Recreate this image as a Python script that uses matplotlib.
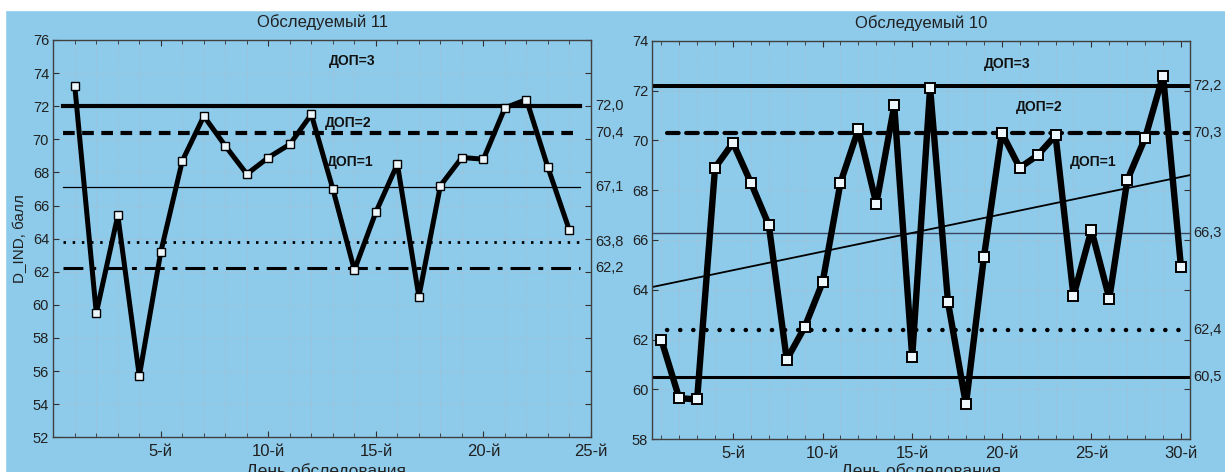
import numpy as np
import matplotlib.pyplot as plt
from matplotlib.patches import Rectangle
from matplotlib.ticker import MultipleLocator, FuncFormatter

plt.rcParams['font.family'] = ['Liberation Sans', 'DejaVu Sans']

BLUE = '#8ecbeb'
INK = '#202020'

# Обследуемый 11
days11 = np.arange(1, 25)
vals11 = [73.2, 59.5, 65.4, 55.7, 63.2, 68.7, 71.4, 69.6, 67.9, 68.9, 69.7, 71.5,
          67.0, 62.1, 65.6, 68.5, 60.5, 67.2, 68.9, 68.8, 71.9, 72.4, 68.3, 64.5]
levels11 = [72.0, 70.4, 67.1, 63.8, 62.2]

# Обследуемый 10
days10 = np.arange(1, 31)
vals10 = [62.0, 59.65, 59.6, 68.9, 69.9, 68.3, 66.6, 61.2, 62.5, 64.3, 68.3, 70.45,
          67.45, 71.4, 61.3, 72.1, 63.5, 59.4, 65.3, 70.3, 68.9, 69.4, 70.2, 63.75,
          66.4, 63.65, 68.4, 70.1, 72.6, 64.9]
levels10 = [72.2, 70.3, 66.3, 62.4, 60.5]

dop_labels = ['ДОП=3', 'ДОП=2', 'ДОП=1']


def fmt_level(v):
    return ('%.1f' % v).replace('.', ',')


def setup_axes(ax, xlim, ylim, title):
    ax.set_facecolor(BLUE)
    ax.set_xlim(*xlim)
    ax.set_ylim(*ylim)
    ax.set_xticks(np.arange(5, xlim[1] + 0.1, 5))
    ax.xaxis.set_minor_locator(MultipleLocator(1))
    ax.yaxis.set_major_locator(MultipleLocator(2))
    ax.xaxis.set_major_formatter(FuncFormatter(lambda v, p: '%d-й' % v))
    ax.tick_params(which='both', direction='in', top=True, right=True,
                   color='#303030', labelcolor=INK)
    ax.tick_params(which='major', length=4, width=0.8)
    ax.tick_params(which='minor', length=3, width=0.6)
    ax.tick_params(axis='x', labelsize=12, pad=5)
    ax.tick_params(axis='y', labelsize=10.5, pad=3)
    ax.grid(True, which='minor', axis='x', linestyle=':', color='#a9bccb', lw=0.7)
    ax.grid(True, which='major', axis='y', linestyle=':', color='#a9bccb', lw=0.7)
    ax.set_axisbelow(True)
    for sp in ax.spines.values():
        sp.set_color('#404040')
        sp.set_linewidth(1.0)
    ax.set_title(title, fontsize=12, color=INK, pad=9)


fig = plt.figure(figsize=(12.25, 4.72), dpi=100, facecolor=BLUE)
fig.add_artist(Rectangle((0, 1 - 10 / 472), 1, 10 / 472, transform=fig.transFigure,
                         color='white', zorder=0))
fig.add_artist(Rectangle((0, 0), 5 / 1225, 1, transform=fig.transFigure,
                         color='white', zorder=0))

# ---- left panel
ax1 = fig.add_axes([0.0435, 0.0735, 0.4389, 0.8418])
setup_axes(ax1, (0, 25), (52, 76), 'Обследуемый 11')
ax1.set_ylabel('D_IND, балл', fontsize=11, color=INK, labelpad=4)

styles11 = [
    dict(lw=3.0, ls='-'),
    dict(lw=3.0, ls=(0, (2.8, 1.8))),
    dict(lw=0.9, ls='-'),
    dict(lw=2.0, ls=(0, (0.9, 2.4))),
    dict(lw=2.2, ls=(0, (6.5, 2.6, 1.6, 2.6))),
]
for lev, st in zip(levels11, styles11):
    ax1.plot([0.45, 24.5], [lev, lev], color='black', zorder=2, **st)
    ax1.text(1.008, lev, fmt_level(lev), transform=ax1.get_yaxis_transform(),
             ha='left', va='center', fontsize=10.5, color=INK, clip_on=False)

ax1.plot(days11, vals11, color='black', lw=3.6, marker='s', ms=5.2,
         mfc='#eef7fc', mec='black', mew=1.0, zorder=3)

for lab, (x, y) in zip(dop_labels, [(13.9, 74.75), (13.7, 71.0), (13.8, 68.6)]):
    ax1.text(x, y, lab, ha='center', va='center', fontsize=10,
             fontweight='bold', color='#111111', zorder=4)

# ---- right panel
ax2 = fig.add_axes([0.5325, 0.0693, 0.4389, 0.8445])
setup_axes(ax2, (0.5, 30.5), (58, 74), 'Обследуемый 10')

styles10 = [
    dict(lw=2.9, ls='-', color='black', x0=0.5),
    dict(lw=3.0, ls=(0, (2.8, 1.8)), color='black', x0=1.3),
    dict(lw=1.0, ls='-', color='#3a4660', x0=0.5),
    dict(lw=3.2, ls=(0, (0.05, 2.9)), color='black', x0=1.3),
    dict(lw=2.2, ls='-', color='black', x0=0.5),
]
for lev, st in zip(levels10, styles10):
    ax2.plot([st['x0'], 30.5], [lev, lev], color=st['color'], lw=st['lw'],
             ls=st['ls'], dash_capstyle='round', zorder=2)
    ax2.text(1.006, lev, fmt_level(lev), transform=ax2.get_yaxis_transform(),
             ha='left', va='center', fontsize=10.5, color=INK, clip_on=False)

# linear trend
k, b = np.polyfit(days10, vals10, 1)
xt = np.array([0.5, 30.5])
ax2.plot(xt, k * xt + b, color='black', lw=1.3, zorder=2)

ax2.plot(days10, vals10, color='black', lw=4.6, marker='s', ms=7.5,
         mfc='#eef7fc', mec='black', mew=1.4, zorder=3)

for lab, (x, y) in zip(dop_labels, [(20.3, 73.05), (22.1, 71.35), (25.1, 69.15)]):
    ax2.text(x, y, lab, ha='center', va='center', fontsize=10,
             fontweight='bold', color='#111111', zorder=4)

# x labels, cut by the bottom edge as in the source
fig.text(0.266, 1 - 463 / 472, 'День обследования', ha='center', va='top',
         fontsize=12.5, color=INK)
fig.text(0.752, 1 - 463 / 472, 'День обследования', ha='center', va='top',
         fontsize=12.5, color=INK)

fig.savefig('out.png', dpi=100, facecolor=fig.get_facecolor())
